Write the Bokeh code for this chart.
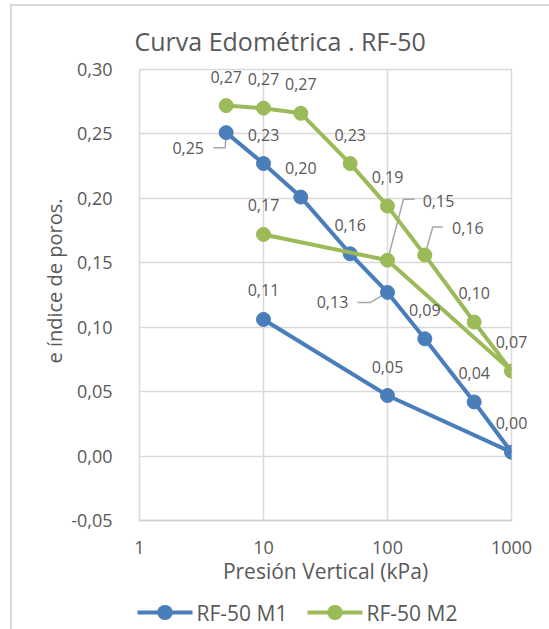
import math

from bokeh.plotting import figure
from bokeh.models import (Range1d, FixedTicker, CustomJSTickFormatter,
                          ColumnDataSource, Title)
from bokeh.embed import file_html
from bokeh.resources import INLINE
from bokeh.core.properties import value

# --- data -------------------------------------------------------------
pressure = [5, 10, 20, 50, 100, 200, 500, 1000, 100, 10]          # kPa
e_m1 = [0.251, 0.227, 0.201, 0.157, 0.127, 0.091, 0.042, 0.003, 0.047, 0.106]
e_m2 = [0.272, 0.270, 0.266, 0.227, 0.194, 0.156, 0.104, 0.066, 0.152, 0.172]
series_names = ["RF-50 M1", "RF-50 M2"]
x_ticks = [1, 10, 100, 1000]
y_ticks = [-0.05, 0.0, 0.05, 0.10, 0.15, 0.20, 0.25, 0.30]

# --- style ------------------------------------------------------------
FONT = "Open Sans"
TEXT = "#595959"
GRID = "#D9D9D9"
LEADER = "#A6A6A6"
colors = ["#4A7EBB", "#9BBB59"]

X0, X1 = 1, 1000
Y0, Y1 = -0.05, 0.30
FRAME_W, FRAME_H = 372, 451
DECADE_PX = FRAME_W / math.log10(X1 / X0)
PX_PER_UNIT = FRAME_H / (Y1 - Y0)

# data-label offsets in screen pixels (+y is down); default sits above the point
DEFAULT_OFF = (0, -29)
label_off = [
    {0: (-38, 15), 4: (-55, 10)},
    {5: (43, -27), 8: (51, -59)},
]
# leader lines: screen-pixel bends, ending on the point itself
leaders = [
    {0: [(-13, 15), (-1, 15)], 4: [(-30, 10), (-17, 10)]},
    {5: [(18, -28), (8, -28)], 8: [(27, -61), (16, -61)]},
]

# legend row below the axis title, in pixels from the frame's bottom-left corner
LEG_ROW_DY = 92
LEG_ITEM_DX = [-2, 168]
LEG_GLYPH_W = 55
LEG_TEXT_GAP = 4
LEG_DOT = 15


def shift(x, y, dx, dy):
    """Move a data point by a screen-pixel offset on the log-x / linear-y frame."""
    return x * 10 ** (dx / DECADE_PX), y - dy / PX_PER_UNIT


def fmt(v):
    return f"{v:.2f}".replace(".", ",")


p = figure(
    x_axis_type="log",
    x_range=Range1d(X0, X1), y_range=Range1d(Y0, Y1),
    frame_width=FRAME_W, frame_height=FRAME_H,
    min_border_left=127, min_border_right=38,
    min_border_top=63, min_border_bottom=109,
    output_backend="svg", toolbar_location=None,
    background_fill_color="white", border_fill_color="white",
)
p.margin = (4, 0, 0, 10)
p.styles = {"border-top": f"2px solid {GRID}", "border-left": f"2px solid {GRID}"}
p.outline_line_color = GRID
p.outline_line_width = 1.5

# title
p.title.text = "Curva Edométrica . RF-50"
p.title.text_font = FONT
p.title.text_font_size = "25px"
p.title.text_font_style = "normal"
p.title.text_color = TEXT
p.title.align = "left"
p.title.offset = -5
p.title.standoff = 24

# axes
p.xaxis.ticker = FixedTicker(ticks=x_ticks, minor_ticks=[])
p.xaxis.formatter = CustomJSTickFormatter(code="return tick.toFixed(0);")
p.yaxis.ticker = FixedTicker(ticks=y_ticks, minor_ticks=[])
p.yaxis.formatter = CustomJSTickFormatter(code="return tick.toFixed(2).replace('.', ',');")
p.xaxis.axis_label = "Presión Vertical (kPa)"
for ax in (p.xaxis, p.yaxis):
    ax.major_tick_line_color = None
    ax.minor_tick_line_color = None
    ax.major_label_text_font = FONT
    ax.major_label_text_font_size = "18px"
    ax.major_label_text_color = TEXT
    ax.axis_label_text_font = FONT
    ax.axis_label_text_font_size = "21px"
    ax.axis_label_text_font_style = "normal"
    ax.axis_label_text_color = TEXT
p.xaxis.axis_line_color = "#D0D0D0"
p.xaxis.axis_line_width = 1.5
p.yaxis.axis_line_color = None
p.xaxis.major_label_standoff = 14
p.xaxis.axis_label_standoff = 0
p.yaxis.major_label_standoff = 21

# y-axis title, set a little above the middle of the plot
ytitle = Title(text="e índice de poros.", align="left", offset=157,
               text_font=FONT, text_font_size="20px", text_font_style="normal",
               text_color=TEXT, standoff=2)
p.add_layout(ytitle, "left")

p.xgrid.grid_line_color = GRID
p.ygrid.grid_line_color = GRID
p.xgrid.grid_line_width = 1.5
p.ygrid.grid_line_width = 1.5

# leader lines under the markers
for s, yvals in enumerate([e_m1, e_m2]):
    for i, bends in leaders[s].items():
        xs, ys = [], []
        for dx, dy in bends:
            lx, ly = shift(pressure[i], yvals[i], dx, dy)
            xs.append(lx)
            ys.append(ly)
        xs.append(pressure[i])
        ys.append(yvals[i])
        p.line(xs, ys, line_color=LEADER, line_width=1.5)

for s, yvals in enumerate([e_m1, e_m2]):
    src = ColumnDataSource(dict(x=pressure, y=yvals))
    p.line("x", "y", source=src, line_color=colors[s], line_width=4)
    p.scatter("x", "y", source=src, marker="circle", size=14,
              fill_color=colors[s], line_color=colors[s])

# value labels (overlay level so the ones at the right edge are not clipped)
for s, yvals in enumerate([e_m1, e_m2]):
    offs = [label_off[s].get(i, DEFAULT_OFF) for i in range(len(pressure))]
    lab = ColumnDataSource(dict(
        x=pressure, y=yvals, t=[fmt(v) for v in yvals],
        dx=[o[0] for o in offs], dy=[o[1] for o in offs],
    ))
    p.text("x", "y", text="t", source=lab, x_offset="dx", y_offset="dy",
           text_font=value(FONT), text_font_size="16px", text_color=TEXT,
           text_align="center", text_baseline="middle", level="overlay")

# legend row under the x-axis title (drawn at overlay level, outside the frame);
# the marker dot is a round-capped stub of line so it is not culled off-frame
for s, name in enumerate(series_names):
    x_a, y_a = shift(X0, Y0, LEG_ITEM_DX[s], LEG_ROW_DY)
    x_b, _ = shift(X0, Y0, LEG_ITEM_DX[s] + LEG_GLYPH_W, LEG_ROW_DY)
    x_m0, _ = shift(X0, Y0, LEG_ITEM_DX[s] + LEG_GLYPH_W / 2 - 0.3, LEG_ROW_DY)
    x_m1, _ = shift(X0, Y0, LEG_ITEM_DX[s] + LEG_GLYPH_W / 2 + 0.3, LEG_ROW_DY)
    x_t, _ = shift(X0, Y0, LEG_ITEM_DX[s] + LEG_GLYPH_W + LEG_TEXT_GAP, LEG_ROW_DY)
    p.line([x_a, x_b], [y_a, y_a], line_color=colors[s], line_width=4,
           level="overlay")
    p.line([x_m0, x_m1], [y_a, y_a], line_color=colors[s], line_width=LEG_DOT,
           line_cap="round", level="overlay")
    p.text([x_t], [y_a], text=[name], text_font=value(FONT),
           text_font_size="21px", text_color=TEXT, text_align="left",
           text_baseline="middle", level="overlay")

open("out.html", "w").write(file_html(p, INLINE))
